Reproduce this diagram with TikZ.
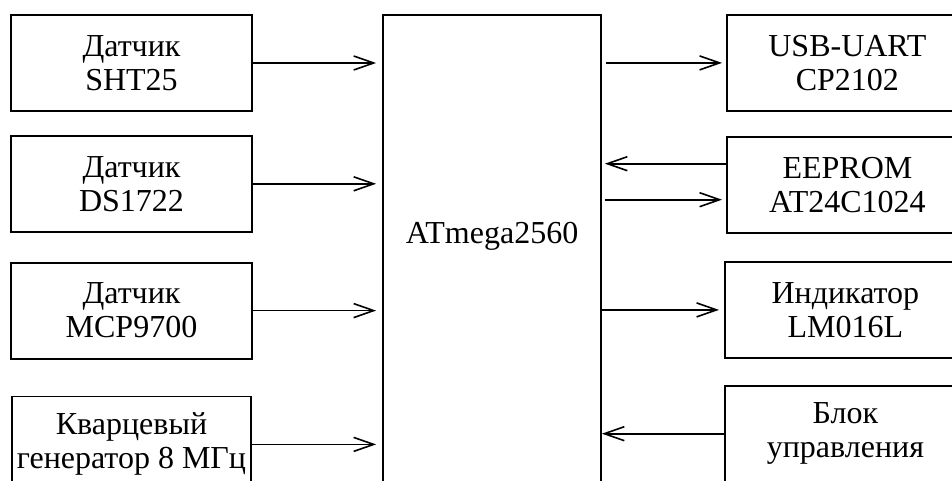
\documentclass[tikz,border=0pt]{standalone}
\usepackage{fontspec}
\setmainfont{Liberation Serif}
\usepackage{tikz}
\usetikzlibrary{arrows.meta, positioning}

\begin{document}
\begin{tikzpicture}[
  x=0.5pt, y=-0.5pt,
  every node/.style={font=\fontsize{16}{17}\selectfont},
  blok/.style={draw, line width=0.9pt, minimum width=120.5pt,
               minimum height=48pt, align=center, inner sep=0pt},
  arrow/.style={-{Straight Barb[length=10pt, width=7pt]}, line width=0.8pt}
]
\clip (0,0) rectangle (952,481);
% left side: sensors and clock
\node[blok] (sht) at (131.5,63) {Датчик\\SHT25};
\node[blok, below=11.5pt of sht] (ds) {Датчик\\DS1722};
\node[blok, below=14.5pt of ds] (mcp) {Датчик\\MCP9700};
\node[blok, minimum width=119.5pt, below=18pt of mcp] (kv) {Кварцевый\\генератор 8 МГц};
% microcontroller
\node[draw, line width=0.9pt, minimum width=109pt, minimum height=250pt,
      anchor=north] (mcu) at (492,14) {};
\node (mcutxt) at (492,236) {ATmega2560};
% right side
\node[blok, anchor=north west] (usb) at (726,14) {USB-UART\\CP2102};
\node[blok, below=12pt of usb] (eep) {EEPROM\\AT24C1024};
\node[blok, anchor=north west] (ind) at (724,261) {Индикатор\\LM016L};
\node[blok, below=13pt of ind] (blk) {Блок\\управления};

\draw[arrow, shorten >=3pt] (sht.east) -- (sht.east -| mcu.west);
\draw[arrow, shorten >=3pt] (ds.east) -- (ds.east -| mcu.west);
\draw[arrow, shorten >=3pt] (mcp.east) -- (mcp.east -| mcu.west);
\draw[arrow, shorten >=3pt] (kv.east) -- (kv.east -| mcu.west);
\draw[arrow, shorten <=2pt, shorten >=2pt] (usb.west -| mcu.east) -- (usb.west);
\draw[arrow, shorten >=1.5pt] ([yshift=10.5pt]eep.west) -- ([yshift=10.5pt]eep.west -| mcu.east);
\draw[arrow, shorten <=1.5pt, shorten >=2pt] ([yshift=-7.5pt]eep.west -| mcu.east) -- ([yshift=-7.5pt]eep.west);
\draw[arrow, shorten >=2.5pt] (ind.west -| mcu.east) -- (ind.west);
\draw[arrow] (blk.west) -- (blk.west -| mcu.east);
\end{tikzpicture}
\end{document}
